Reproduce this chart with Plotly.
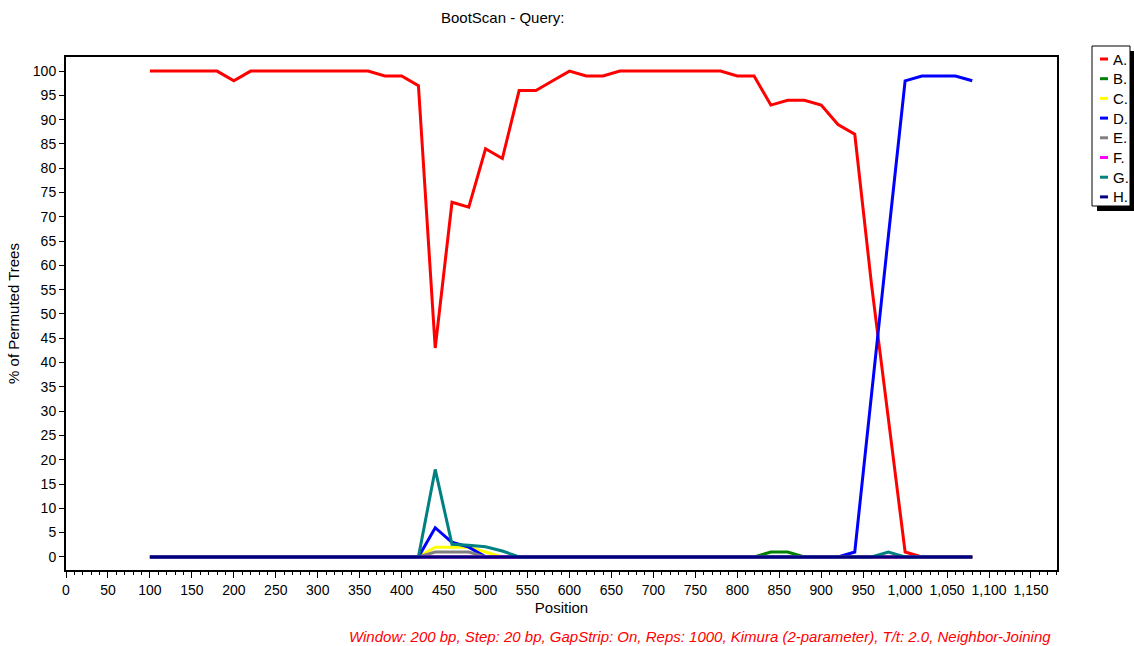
import plotly.graph_objects as go

# ---------------- data ----------------
positions = list(range(100, 1081, 20))  # 50 windows

series_names = ["A.", "B.", "C.", "D.", "E.", "F.", "G.", "H."]
series_colors = ["#FF0000", "#008000", "#FFFF00", "#0000FF", "#808080", "#FF00FF", "#008080", "#000080"]

A = [100, 100, 100, 100, 100, 98, 100, 100, 100, 100,
     100, 100, 100, 100, 99, 99, 97, 43, 73, 72,
     84, 82, 96, 96, 98, 100, 99, 99, 100, 100,
     100, 100, 100, 100, 100, 99, 99, 93, 94, 94,
     93, 89, 87, 56, 28, 1, 0, 0, 0, 0]
B = [0] * 37 + [1, 1] + [0] * 11
C = [0] * 17 + [2, 2, 2, 1] + [0] * 29
D = [0] * 17 + [6, 3, 2] + [0] * 22 + [1, 34, 66, 98, 99, 99, 99, 98]
E = [0] * 17 + [1, 1, 1] + [0] * 30
F = [0] * 50
G = [0] * 17 + [18, 2.6, 2.4, 2.1, 1.2] + [0] * 22 + [1] + [0] * 5
H = [0] * 50
series_values = [A, B, C, D, E, F, G, H]

x_ticks = list(range(0, 1151, 50))
y_ticks = list(range(0, 101, 5))

# ---------------- figure ----------------
W, H_px = 1134, 646
L, R, T, Bm = 66, 1057, 57, 570
FONT = "Liberation Sans, Arial, sans-serif"
FS = 15

fig = go.Figure()
for name, col, vals in zip(series_names, series_colors, series_values):
    fig.add_trace(go.Scatter(x=positions, y=vals, mode="lines", name=name,
                             line=dict(color=col, width=3), showlegend=False))

fig.update_layout(
    width=W, height=H_px,
    margin=dict(l=L, r=W - R, t=T, b=H_px - Bm, pad=0),
    paper_bgcolor="white", plot_bgcolor="white",
    font=dict(family=FONT, size=FS, color="black"),
    showlegend=False,
)
fig.update_xaxes(
    range=[0, 1181], tickvals=x_ticks, tickformat=",d",
    ticks="outside", ticklen=6, tickwidth=1, tickcolor="black",
    minor=dict(dtick=10, tick0=0, ticks="outside", ticklen=3, tickcolor="black"),
    showgrid=False, zeroline=False,
    showline=True, linecolor="black", linewidth=2, mirror=True,
    title=dict(text="Position", font=dict(size=FS), standoff=6),
    tickfont=dict(size=FS - 1),
)
fig.update_yaxes(
    range=[-2.7, 102.9], tickvals=y_ticks,
    ticks="outside", ticklen=5, tickwidth=1, tickcolor="black",
    showgrid=False, zeroline=False,
    showline=True, linecolor="black", linewidth=2, mirror=True,
    title=dict(text="% of Permuted Trees", font=dict(size=FS), standoff=10),
    tickfont=dict(size=FS - 1),
)

def px(xp):
    return (xp - L) / (R - L)

def py(yp):
    return (Bm - yp) / (Bm - T)

ann = []
shapes = []
# title
ann.append(dict(text="BootScan - Query:", x=px(502), y=py(17), xref="paper", yref="paper",
                showarrow=False, xanchor="center", yanchor="middle", font=dict(size=FS)))
# footer
ann.append(dict(text="<i>Window: 200 bp, Step: 20 bp, GapStrip: On, Reps: 1000, Kimura (2-parameter), T/t: 2.0, Neighbor-Joining</i>",
                x=px(1053), y=py(636), xref="paper", yref="paper", showarrow=False,
                xanchor="right", yanchor="middle", font=dict(size=FS, color="#FF0000")))

# manual legend box with shadow
shapes.append(dict(type="rect", xref="paper", yref="paper", x0=px(1097), x1=px(1134), y0=py(211), y1=py(51),
                   fillcolor="black", line=dict(width=0), layer="above"))
shapes.append(dict(type="rect", xref="paper", yref="paper", x0=px(1092), x1=px(1130), y0=py(206), y1=py(46),
                   fillcolor="white", line=dict(color="black", width=1), layer="above"))
for i, (name, col) in enumerate(zip(series_names, series_colors)):
    yy = 59 + i * 19.7
    shapes.append(dict(type="line", xref="paper", yref="paper", x0=px(1100), x1=px(1108), y0=py(yy), y1=py(yy),
                       line=dict(color=col, width=3), layer="above"))
    ann.append(dict(text=name, x=px(1111), y=py(yy), xref="paper", yref="paper", showarrow=False,
                    xanchor="left", yanchor="middle", font=dict(size=FS)))

fig.update_layout(annotations=ann, shapes=shapes)
fig.write_html("out.html")
